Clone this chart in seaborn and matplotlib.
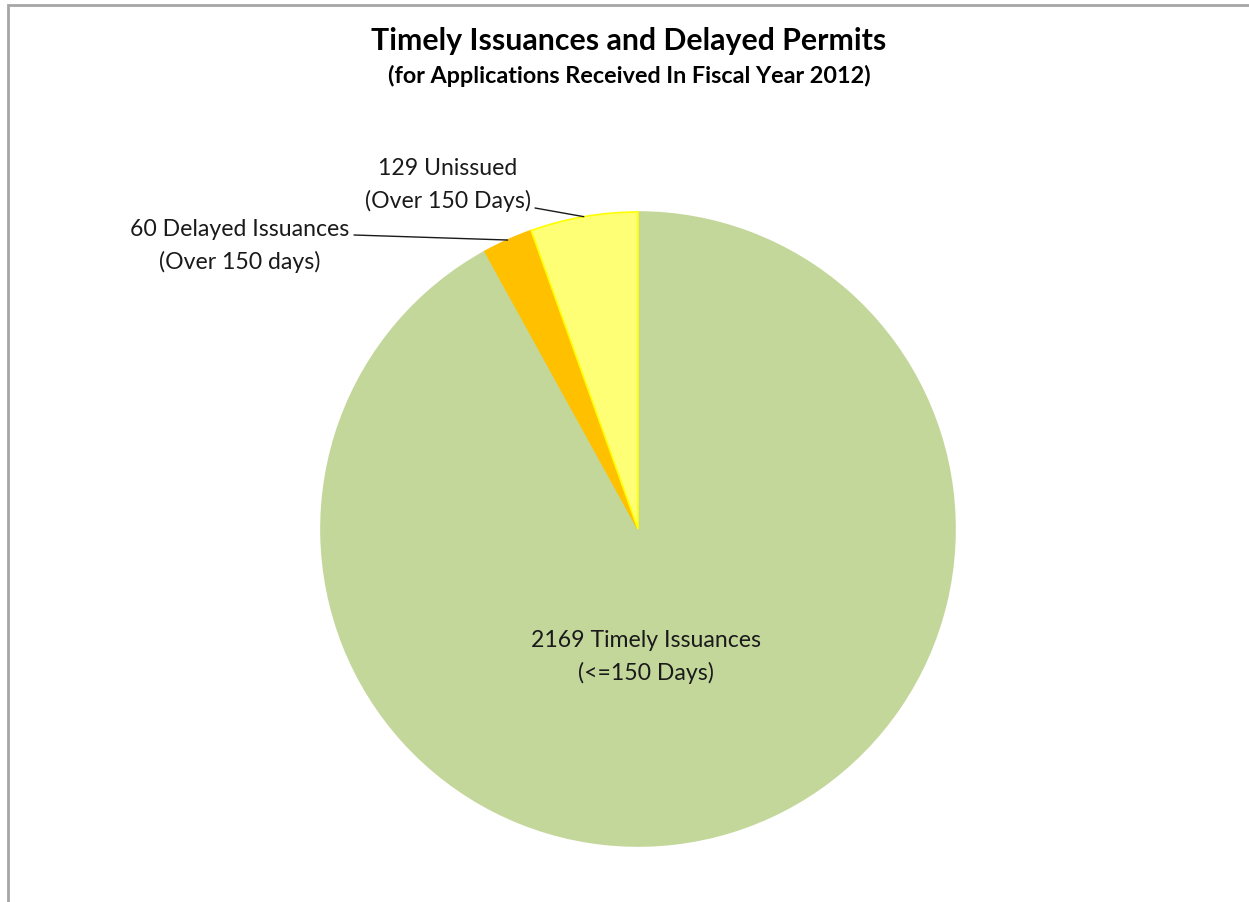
import matplotlib
matplotlib.use('Agg')
import matplotlib.pyplot as plt
import numpy as np
import seaborn as sns
from matplotlib.patches import Rectangle

# Data
categories = ['Timely Issuances', 'Delayed Issuances', 'Unissued']
counts = [2169, 60, 129]
notes = ['(<=150 Days)', '(Over 150 days)', '(Over 150 Days)']
colors = ['#C4D79B', '#FFC000', '#FFFF75']
edges = ['#C4D79B', '#FFC000', '#FFFF00']

sns.set_theme(style='white')
plt.rcParams['font.family'] = ['Lato', 'DejaVu Sans']

W, H = 1249, 903
fig = plt.figure(figsize=(W / 100, H / 100), dpi=100)
ax = fig.add_axes([0, 0, 1, 1])


def py(y):
    # pixel row (from top) -> data y
    return H - y


cx, cy, r = 638, py(530), 317
wedges, _ = ax.pie(counts, colors=colors, startangle=90, counterclock=False,
                   radius=r, center=(cx, cy), frame=True,
                   wedgeprops=dict(linewidth=1.2))
for w, e in zip(wedges, edges):
    w.set_edgecolor(e)

ax.set_xlim(0, W)
ax.set_ylim(0, H)
ax.axis('off')

# outer chart border (only top/left visible)
ax.add_patch(Rectangle((8.5, -20), W + 40, py(5.5) + 20, fill=False,
                       edgecolor='#a6a6a6', linewidth=2))

# titles
ax.text(629, py(41), 'Timely Issuances and Delayed Permits', ha='center',
        va='center', fontsize=21.8, fontweight='bold', color='black')
ax.text(629, py(76), '(for Applications Received In Fiscal Year 2012)',
        ha='center', va='center', fontsize=16.8, fontweight='bold', color='black')

lab_kw = dict(ha='center', va='center', fontsize=16.6, color='#1a1a1a',
              linespacing=1.55)


def label(i):
    return f'{counts[i]} {categories[i]}\n{notes[i]}'


# big slice label inside
ax.text(646, py(657), label(0), **lab_kw)

# outside labels with leader lines to mid-arc
label_pos = {1: (240, py(246)), 2: (448, py(185))}
line_start = {1: (354, py(236)), 2: (535, py(209))}
for i in (1, 2):
    ax.text(*label_pos[i], label(i), **lab_kw)
    w = wedges[i]
    mid = np.deg2rad((w.theta1 + w.theta2) / 2)
    end = (cx + r * np.cos(mid), cy + r * np.sin(mid))
    ax.plot([line_start[i][0], end[0]], [line_start[i][1], end[1]],
            color='#1a1a1a', linewidth=1)

fig.savefig('out.png', dpi=100, facecolor='white')
